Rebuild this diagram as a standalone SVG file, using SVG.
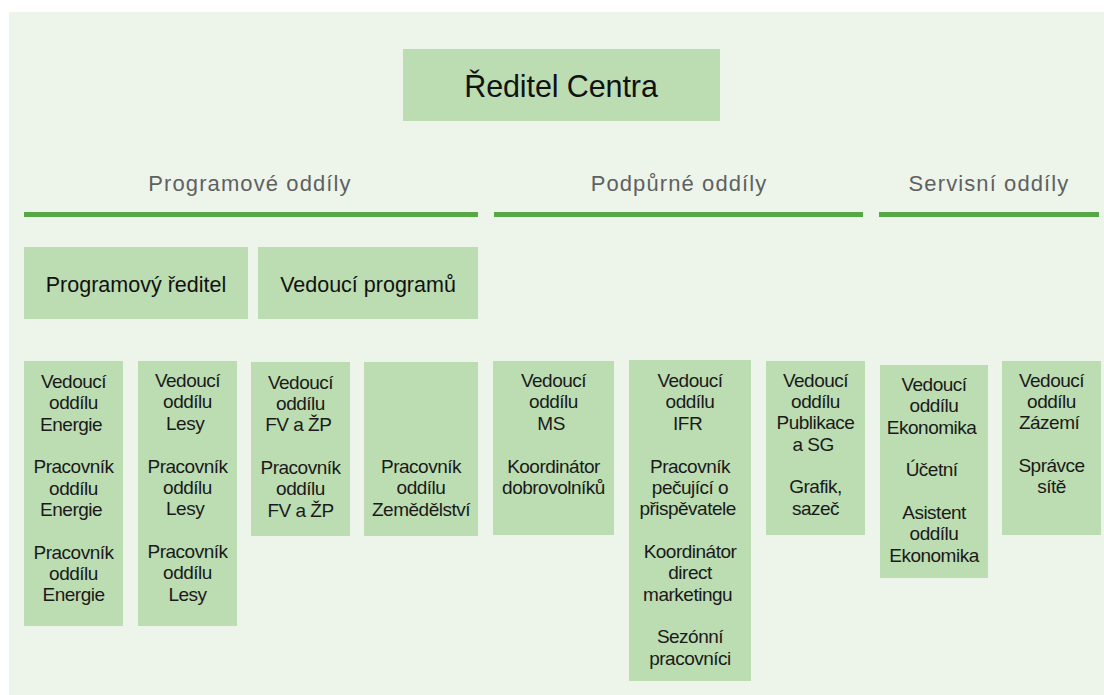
<svg xmlns="http://www.w3.org/2000/svg" width="1104" height="695" viewBox="0 0 1104 695">
<style>
.bg{fill:#edf5eb}
.box{fill:#bcdcb2}
.bar{fill:#55a844}
.hdr{font-family:"Liberation Sans",Arial,sans-serif;font-size:22px;fill:#5f6161;text-anchor:middle;letter-spacing:1.1px}
.big{font-family:"Liberation Sans",Arial,sans-serif;font-size:30.5px;fill:#111;text-anchor:middle;letter-spacing:-0.1px}
.mid{font-family:"Liberation Sans",Arial,sans-serif;font-size:21.5px;fill:#111;text-anchor:middle}
.t{font-family:"Liberation Sans",Arial,sans-serif;font-size:19px;fill:#1a1a1a;text-anchor:middle;letter-spacing:-0.5px}
</style>
<rect x="0" y="0" width="1104" height="695" fill="#ffffff"/>
<rect class="bg" x="9" y="12" width="1095" height="683"/>

<g id="connectors">
<rect class="bar" x="24" y="212" width="454" height="5"/>
<rect class="bar" x="494" y="212" width="369" height="5"/>
<rect class="bar" x="879" y="212" width="220" height="5"/>
</g>

<g id="headers">
<text class="hdr" x="250" y="191">Programové oddíly</text>
<text class="hdr" x="679" y="191">Podpůrné oddíly</text>
<text class="hdr" x="989" y="191">Servisní oddíly</text>
</g>

<g id="reditel">
<rect class="box" x="403" y="49" width="317" height="72"/>
<text class="big" x="561" y="97">Ředitel Centra</text>
</g>

<g id="programovy-reditel">
<rect class="box" x="24" y="247" width="224" height="72"/>
<text class="mid" x="136" y="292">Programový ředitel</text>
</g>

<g id="vedouci-programu">
<rect class="box" x="258" y="247" width="220" height="72"/>
<text class="mid" x="368" y="292">Vedoucí programů</text>
</g>

<g id="energie">
<rect class="box" x="24" y="361" width="99" height="265"/>
<text class="t" x="73.5" y="388">
<tspan x="73.5" y="388">Vedoucí</tspan><tspan x="73.5" y="409.3">oddílu</tspan><tspan x="73.5" y="430.7">Energie</tspan>
<tspan x="73.5" y="473.3">Pracovník</tspan><tspan x="73.5" y="494.7">oddílu</tspan><tspan x="73.5" y="516">Energie</tspan>
<tspan x="73.5" y="558.7">Pracovník</tspan><tspan x="73.5" y="580">oddílu</tspan><tspan x="73.5" y="601.3">Energie</tspan>
</text>
</g>

<g id="lesy">
<rect class="box" x="138" y="361" width="99" height="265"/>
<text class="t" x="187.5" y="387">
<tspan x="187.5" y="387">Vedoucí</tspan><tspan x="187.5" y="408.3">oddílu</tspan><tspan x="187.5" y="429.7">Lesy</tspan>
<tspan x="187.5" y="472.7">Pracovník</tspan><tspan x="187.5" y="494">oddílu</tspan><tspan x="187.5" y="515.3">Lesy</tspan>
<tspan x="187.5" y="558">Pracovník</tspan><tspan x="187.5" y="579.3">oddílu</tspan><tspan x="187.5" y="600.7">Lesy</tspan>
</text>
</g>

<g id="fv-zp">
<rect class="box" x="251" y="362" width="99" height="174"/>
<text class="t" x="300.5" y="389">
<tspan x="300.5" y="389">Vedoucí</tspan><tspan x="300.5" y="410">oddílu</tspan><tspan x="300.5" y="431">FV a ŽP</tspan>
<tspan x="300.5" y="474">Pracovník</tspan><tspan x="300.5" y="495.3">oddílu</tspan><tspan x="300.5" y="516.7">FV a ŽP</tspan>
</text>
</g>

<g id="zemedelstvi">
<rect class="box" x="364" y="362" width="114" height="174"/>
<text class="t" x="421" y="473">
<tspan x="421" y="473">Pracovník</tspan><tspan x="421" y="494.3">oddílu</tspan><tspan x="421" y="515.7">Zemědělství</tspan>
</text>
</g>

<g id="ms">
<rect class="box" x="493" y="361" width="121" height="174"/>
<text class="t" x="553.5" y="387">
<tspan x="553.5" y="387">Vedoucí</tspan><tspan x="553.5" y="408.3">oddílu</tspan><tspan x="553.5" y="429.7">MS</tspan>
<tspan x="553.5" y="472.7">Koordinátor</tspan><tspan x="553.5" y="494">dobrovolníků</tspan>
</text>
</g>

<g id="ifr">
<rect class="box" x="629" y="360" width="122" height="321"/>
<text class="t" x="690" y="387">
<tspan x="690" y="387">Vedoucí</tspan><tspan x="690" y="408.3">oddílu</tspan><tspan x="690" y="429.7">IFR</tspan>
<tspan x="690" y="472.7">Pracovník</tspan><tspan x="690" y="494">pečující o</tspan><tspan x="690" y="515.3">přispěvatele</tspan>
<tspan x="690" y="558">Koordinátor</tspan><tspan x="690" y="579.3">direct</tspan><tspan x="690" y="600.7">marketingu</tspan>
<tspan x="690" y="643.3">Sezónní</tspan><tspan x="690" y="664.7">pracovníci</tspan>
</text>
</g>

<g id="publikace">
<rect class="box" x="766" y="361" width="99" height="174"/>
<text class="t" x="815.5" y="386.5">
<tspan x="815.5" y="386.5">Vedoucí</tspan><tspan x="815.5" y="407.8">oddílu</tspan><tspan x="815.5" y="429.2">Publikace</tspan><tspan x="815.5" y="450.5">a SG</tspan>
<tspan x="815.5" y="493.2">Grafik,</tspan><tspan x="815.5" y="514.5">sazeč</tspan>
</text>
</g>

<g id="ekonomika">
<rect class="box" x="880" y="365" width="108" height="213"/>
<text class="t" x="934" y="391">
<tspan x="934" y="391">Vedoucí</tspan><tspan x="934" y="412.3">oddílu</tspan><tspan x="934" y="433.7">Ekonomika</tspan>
<tspan x="934" y="476.3">Účetní</tspan>
<tspan x="934" y="519">Asistent</tspan><tspan x="934" y="540.3">oddílu</tspan><tspan x="934" y="561.7">Ekonomika</tspan>
</text>
</g>

<g id="zazemi">
<rect class="box" x="1002" y="361" width="99" height="174"/>
<text class="t" x="1051.5" y="386.5">
<tspan x="1051.5" y="386.5">Vedoucí</tspan><tspan x="1051.5" y="407.8">oddílu</tspan><tspan x="1051.5" y="429.2">Zázemí</tspan>
<tspan x="1051.5" y="471.8">Správce</tspan><tspan x="1051.5" y="493.2">sítě</tspan>
</text>
</g>
</svg>
